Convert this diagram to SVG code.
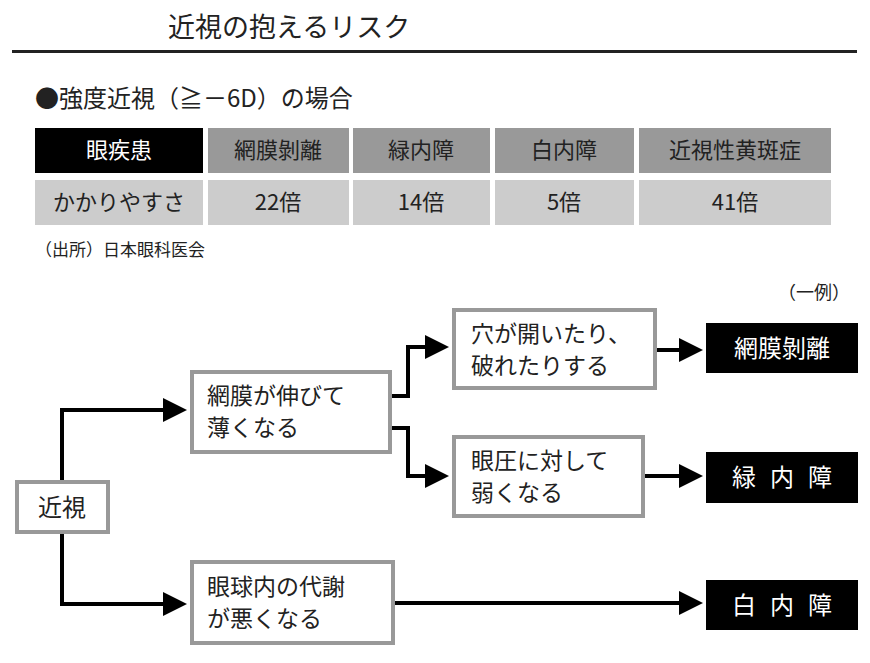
<svg xmlns="http://www.w3.org/2000/svg" width="870" height="663" viewBox="0 0 870 663">
<style>
text{font-family:"Noto Sans CJK JP","Noto Sans",sans-serif;fill:#222}
.b{fill:#fff;stroke:#999;stroke-width:4}
.k{fill:#000}
.w{fill:#fff}
.t{font-size:22px}
.c{text-anchor:middle}
.ln{fill:none;stroke:#000;stroke-width:4}
</style>
<defs><marker id="a" markerWidth="6" markerHeight="6" refX="5" refY="3" orient="auto" markerUnits="strokeWidth"><path d="M0,0L6,3L0,6Z" fill="#000"/></marker></defs>
<rect width="870" height="663" fill="#fff"/>
<text x="168" y="37" font-size="27">近視の抱えるリスク</text>
<rect x="12" y="50" width="845" height="3" fill="#222"/>
<text x="35" y="107" font-size="24">●強度近視（≧－6D）の場合</text>
<g id="table" class="t">
<rect x="35" y="128" width="168" height="45" fill="#000"/>
<rect x="208" y="128" width="141" height="45" fill="#999"/>
<rect x="353" y="128" width="137" height="45" fill="#999"/>
<rect x="495" y="128" width="139" height="45" fill="#999"/>
<rect x="639" y="128" width="192" height="45" fill="#999"/>
<rect x="35" y="180" width="168" height="45" fill="#ccc"/>
<rect x="208" y="180" width="141" height="45" fill="#ccc"/>
<rect x="353" y="180" width="137" height="45" fill="#ccc"/>
<rect x="495" y="180" width="139" height="45" fill="#ccc"/>
<rect x="639" y="180" width="192" height="45" fill="#ccc"/>
<text x="119" y="158" class="c w">眼疾患</text>
<text x="278" y="158" class="c">網膜剝離</text>
<text x="421" y="158" class="c">緑内障</text>
<text x="564" y="158" class="c">白内障</text>
<text x="735" y="158" class="c">近視性黄斑症</text>
<text x="119" y="210" class="c">かかりやすさ</text>
<text x="278" y="210" class="c">22倍</text>
<text x="421" y="210" class="c">14倍</text>
<text x="564" y="210" class="c">5倍</text>
<text x="735" y="210" class="c">41倍</text>
</g>
<text x="35" y="256" font-size="17">（出所）日本眼科医会</text>
<text x="778" y="299" font-size="18">（一例）</text>
<g id="connectors">
<path class="ln" d="M62,482V410H183" marker-end="url(#a)"/>
<path class="ln" d="M62,532V604H183" marker-end="url(#a)"/>
<path class="ln" d="M390,396H408V347H445" marker-end="url(#a)"/>
<path class="ln" d="M390,428H408V476H445" marker-end="url(#a)"/>
<path class="ln" d="M655,350H699" marker-end="url(#a)"/>
<path class="ln" d="M643,476H699" marker-end="url(#a)"/>
<path class="ln" d="M393,603H699" marker-end="url(#a)"/>
</g>
<g id="n1" class="t"><rect class="b" x="17" y="482" width="91" height="50"/><text x="62" y="516" class="c" font-size="24">近視</text></g>
<g id="n2" class="t"><rect class="b" x="192" y="372" width="198" height="80"/><text x="207" y="404" font-size="23">網膜が伸びて</text><text x="207" y="436" font-size="23">薄くなる</text></g>
<g id="n3" class="t"><rect class="b" x="454" y="310" width="201" height="78"/><text x="471" y="342" font-size="23">穴が開いたり、</text><text x="471" y="374" font-size="23">破れたりする</text></g>
<g id="n4" class="t"><rect class="b" x="454" y="437" width="189" height="79"/><text x="471" y="469" font-size="23">眼圧に対して</text><text x="471" y="501" font-size="23">弱くなる</text></g>
<g id="n5" class="t"><rect class="b" x="192" y="562" width="201" height="81"/><text x="207" y="595" font-size="23">眼球内の代謝</text><text x="207" y="627" font-size="23">が悪くなる</text></g>
<g id="n6" class="t"><rect class="k" x="706" y="323" width="152" height="50"/><text x="782" y="357" class="c w" font-size="24">網膜剝離</text></g>
<g id="n7" class="t"><rect class="k" x="706" y="452" width="152" height="51"/><text x="789" y="486" class="c w" font-size="24" letter-spacing="14">緑内障</text></g>
<g id="n8" class="t"><rect class="k" x="706" y="580" width="152" height="50"/><text x="789" y="614" class="c w" font-size="24" letter-spacing="14">白内障</text></g>
</svg>
